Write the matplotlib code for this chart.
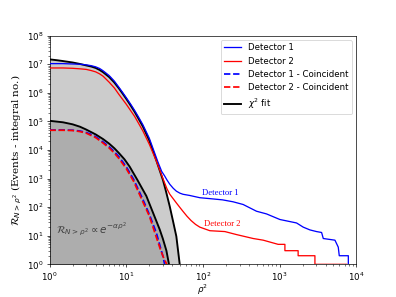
import matplotlib
matplotlib.use('Agg')
import matplotlib.pyplot as plt

# chi^2 fit (all events)
fit_all_x = [1, 1.25, 1.5, 2, 2.5, 3, 3.5, 4, 4.5, 5, 6, 7, 8, 9, 10, 11.5, 12.9, 14.5, 16.5,
             20, 24.7, 30.1, 33, 36.9, 41, 45, 49.8, 52]
fit_all_y = [1.48e7, 1.38e7, 1.29e7, 1.15e7, 1.02e7, 9.1e6, 8.3e6, 7.4e6, 6.3e6, 5.25e6,
             3.55e6, 2.29e6, 1.45e6, 9.3e5, 6.2e5, 3.5e5, 2.14e5, 1.23e5, 6.6e4,
             2.14e4, 4.3e3, 890, 355, 107, 30, 9.5, 1.0, 0.5]

# chi^2 fit (coincident events)
fit_coinc_x = [1, 1.5, 2, 2.5, 3, 4, 5, 6, 7, 8, 9.5, 11.1, 14, 18.3, 22, 27.3, 30, 33.4, 36.1, 38]
fit_coinc_y = [1.05e5, 9.3e4, 7.9e4, 6.5e4, 5.2e4, 3.5e4, 2.4e4, 1.66e4, 1.15e4, 7.9e3, 4.7e3,
               2.6e3, 890, 245, 71, 16.6, 7.9, 3.0, 1.0, 0.5]

# Detector 1
det1_x = [1, 1.5, 2, 2.5, 3, 3.5, 4, 4.5, 5, 6, 7, 8, 9, 10, 11.5, 12.9, 14.5, 16.5, 20, 25.9,
          29, 31.7, 34, 37, 41, 45, 50, 55, 67,
          91, 120, 180, 247, 334, 499, 674, 1006, 1660, 2027, 2478, 3020, 3520, 3700, 5250,
          5800, 5980, 7850, 7850]
det1_y = [1.05e7, 1.05e7, 1.02e7, 1.0e7, 9.5e6, 8.9e6, 8.1e6, 7.1e6, 5.9e6, 4.0e6, 2.57e6,
          1.58e6, 1.02e6, 6.8e5, 3.9e5, 2.4e5, 1.41e5, 7.6e4, 2.57e4, 3.8e3,
          1.78e3, 1.23e3, 890, 630, 457, 363, 309, 282, 257,
          214, 200, 180, 154, 124, 72, 58, 37, 28, 20, 16, 14, 13, 8, 7,
          4, 2, 2, 1]

# Detector 2
det2_x = [1, 1.5, 2, 2.5, 3, 3.5, 4, 4.5, 5, 6, 7, 8, 10, 12.9, 16.5, 20, 24.7, 30.1, 34, 37,
          40, 45, 50, 55, 62, 70, 80,
          91, 123, 193, 273, 452, 610, 955, 1170, 1170, 1740, 1740, 2880, 2880, 7470]
det2_y = [7.4e6, 7.4e6, 7.2e6, 6.9e6, 6.6e6, 6.0e6, 5.4e6, 4.6e6, 3.8e6, 2.34e6, 1.48e6,
          8.9e5, 4.0e5, 1.48e5, 4.6e4, 1.58e4, 4.1e3, 1.0e3, 436, 282,
          214, 141, 98, 71, 48, 34, 25,
          20, 15, 14, 11, 8, 7, 5, 5, 3, 3, 2, 2, 1, 1]

# Coincident events
coinc1_x = [1, 1.5, 2, 2.5, 3, 3.5, 4, 5, 6, 7, 8, 10, 12.5, 16.5, 20, 24.7, 28, 30.1, 31.7, 32]
coinc1_y = [5.0e4, 5.0e4, 4.9e4, 4.6e4, 4.1e4, 3.5e4, 2.9e4, 1.9e4, 1.29e4, 8.7e3, 5.9e3,
            2.6e3, 930, 186, 56, 12.6, 3.8, 1.9, 1.0, 0.5]
coinc2_x = [1, 1.5, 2, 2.5, 3, 3.5, 4, 5, 6, 7, 8, 10, 12.5, 16, 20, 23.5, 28, 31, 33.8, 34]
coinc2_y = [4.9e4, 4.9e4, 4.8e4, 4.4e4, 3.9e4, 3.2e4, 2.7e4, 1.74e4, 1.17e4, 7.8e3, 5.1e3,
            2.24e3, 794, 182, 49, 13.2, 3.2, 1.6, 1.0, 0.5]

fig, ax = plt.subplots(figsize=(6.4, 4.8), dpi=61.875)

ax.fill_between(fit_all_x, 1e-2, fit_all_y, color='gray', alpha=0.4, lw=0)
ax.fill_between(fit_coinc_x, 1e-2, fit_coinc_y, color='gray', alpha=0.4, lw=0)

ax.plot(det1_x, det1_y, color='blue', lw=1.5, label='Detector 1', zorder=4)
ax.plot(det2_x, det2_y, color='red', lw=1.5, label='Detector 2', zorder=4)
ax.plot(coinc1_x, coinc1_y, color='blue', ls='--', lw=2, label='Detector 1 - Coincident', zorder=4)
ax.plot(coinc2_x, coinc2_y, color='red', ls='--', lw=2, label='Detector 2 - Coincident', zorder=4)
ax.plot(fit_all_x, fit_all_y, color='black', lw=2.2, label=r'$\chi^2$ fit', zorder=3)
ax.plot(fit_coinc_x, fit_coinc_y, color='black', lw=2.2, zorder=3)

ax.text(98, 263, 'Detector 1', color='blue', family='Liberation Serif', fontsize=10)
ax.text(102, 21.5, 'Detector 2', color='red', family='Liberation Serif', fontsize=10)
ax.text(1.23, 12, r'$\mathcal{R}_{N>\rho^2} \propto e^{-\alpha\rho^2}$', color='0.25', fontsize=12)

ax.set_xscale('log')
ax.set_yscale('log')
ax.set_xlim(1, 1e4)
ax.set_ylim(1, 1e8)
ax.set_xlabel(r'$\rho^2$', labelpad=-0.5)
ax.set_ylabel(r'$\mathcal{R}_{N>\rho^2}$ (Events - integral no.)', family='DejaVu Serif', fontsize=12)
ax.legend(loc='upper right')

fig.savefig('out.png')
